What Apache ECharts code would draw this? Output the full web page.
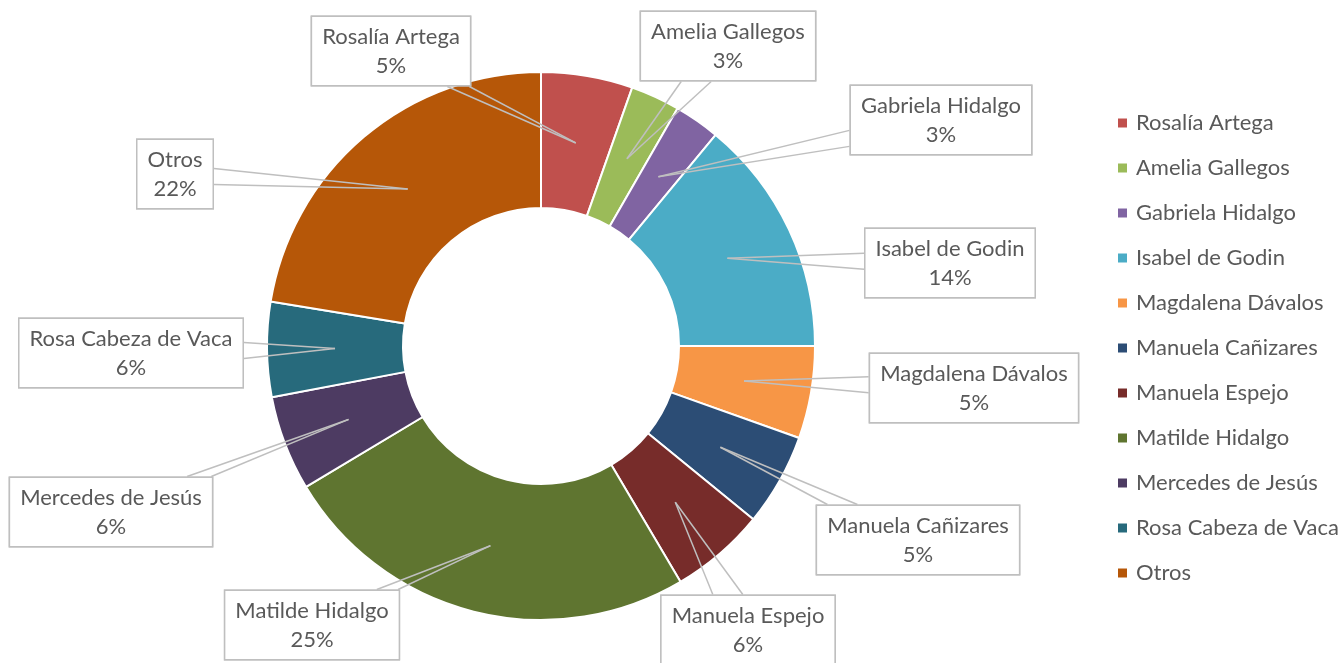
<!DOCTYPE html>
<html>
<head>
<meta charset="utf-8">
<script src="https://cdn.jsdelivr.net/npm/echarts@6/dist/echarts.min.js"></script>
<style>
  html, body { margin: 0; padding: 0; background: #fff; }
  #chart { width: 1341px; height: 663px; }
</style>
</head>
<body>
<div id="chart"></div>
<script>
// data
const names = [
  "Rosalía Artega", "Amelia Gallegos", "Gabriela Hidalgo", "Isabel de Godin",
  "Magdalena Dávalos", "Manuela Cañizares", "Manuela Espejo", "Matilde Hidalgo",
  "Mercedes de Jesús", "Rosa Cabeza de Vaca", "Otros"
];
const values = [5.4, 2.9, 2.7, 14.0, 5.45, 5.45, 5.6, 24.9, 5.6, 5.6, 22.4];
const colors = [
  "#C0504D", "#9BBB59", "#8064A2", "#4BACC6", "#F79646", "#2C4D75",
  "#772C2A", "#5F7530", "#4D3B62", "#276A7C", "#B65708"
];

// layout: donut geometry and callout box centres
const CX = 541, CY = 346, R_IN = 138, R_OUT = 274;
const calloutPos = [
  [391, 51], [728, 46], [941, 120], [950, 263], [974, 388], [918, 540],
  [748, 630], [312, 625], [111, 512], [131, 353], [175, 174]
];

const font = "Lato, 'Noto Sans', sans-serif";
const textColor = "#595959";
const total = values.reduce((a, b) => a + b, 0);
const pieData = names.map((n, i) => ({ name: n, value: values[i] }));

// tip of each callout: middle of the ring at the slice's mid angle
function tipPoint(i) {
  let before = 0;
  for (let k = 0; k < i; k++) before += values[k];
  const ang = ((before + values[i] / 2) / total) * Math.PI * 2;
  const r = (R_IN + R_OUT) / 2;
  return [CX + r * Math.sin(ang), CY - r * Math.cos(ang)];
}

// one side of the callout wedge: tip -> point on the box edge
function wedgeLayout(side) {
  return function (params) {
    const i = params.dataIndex;
    const [lx, ly] = calloutPos[i];
    const tip = tipPoint(i);
    const hw = params.labelRect.width / 2;
    const hh = params.labelRect.height / 2;
    const dx = tip[0] - lx, dy = tip[1] - ly;
    const sx = dx !== 0 ? hw / Math.abs(dx) : Infinity;
    const sy = dy !== 0 ? hh / Math.abs(dy) : Infinity;
    let ex, ey;
    if (sy <= sx) {
      // hits top or bottom edge
      ex = lx + dx * sy + side * 15;
      ex = Math.max(lx - hw + 2, Math.min(lx + hw - 2, ex));
      ey = ly + dy * sy;
    } else {
      // hits left or right edge
      ex = lx + dx * sx;
      ey = ly + dy * sx + side * 8;
      ey = Math.max(ly - hh + 2, Math.min(ly + hh - 2, ey));
    }
    return {
      x: lx,
      y: ly,
      align: "center",
      verticalAlign: "middle",
      labelLinePoints: [tip, [ex, ey], [ex, ey]]
    };
  };
}

function calloutSeries(side, z) {
  return {
    type: "pie",
    z: z,
    center: [CX, CY],
    radius: [R_IN, R_OUT],
    startAngle: 90,
    clockwise: true,
    silent: true,
    avoidLabelOverlap: false,
    emphasis: { disabled: true },
    itemStyle: { color: "rgba(0,0,0,0)", borderWidth: 0 },
    label: {
      show: true,
      position: "outer",
      formatter: (p) => p.name + "\n" + Math.round(p.percent) + "%",
      fontFamily: font,
      fontSize: 22,
      lineHeight: 29,
      color: textColor,
      align: "center",
      backgroundColor: "#fff",
      borderColor: "#bfbfbf",
      borderWidth: 1.5,
      padding: [5, 10]
    },
    labelLine: {
      show: true,
      length: 10,
      length2: 10,
      lineStyle: { color: "#bfbfbf", width: 1.5 }
    },
    labelLayout: wedgeLayout(side),
    data: pieData
  };
}

const chart = echarts.init(document.getElementById("chart"));
chart.setOption({
  animation: false,
  color: colors,
  legend: {
    orient: "vertical",
    left: 1111,
    top: 106,
    itemWidth: 11,
    itemHeight: 11,
    itemGap: 21,
    icon: "rect",
    selectedMode: false,
    textStyle: {
      fontFamily: font,
      fontSize: 22,
      lineHeight: 24,
      color: textColor,
      padding: [0, 0, 0, 3]
    },
    data: names
  },
  series: [
    {
      // the coloured ring
      type: "pie",
      center: [CX, CY],
      radius: [R_IN, R_OUT],
      startAngle: 90,
      clockwise: true,
      silent: true,
      emphasis: { disabled: true },
      itemStyle: { borderColor: "#fff", borderWidth: 2 },
      label: { show: false },
      labelLine: { show: false },
      data: pieData
    },
    // transparent copies on top that carry the callout boxes and wedges
    calloutSeries(-1, 5),
    calloutSeries(1, 6)
  ]
});
</script>
</body>
</html>
